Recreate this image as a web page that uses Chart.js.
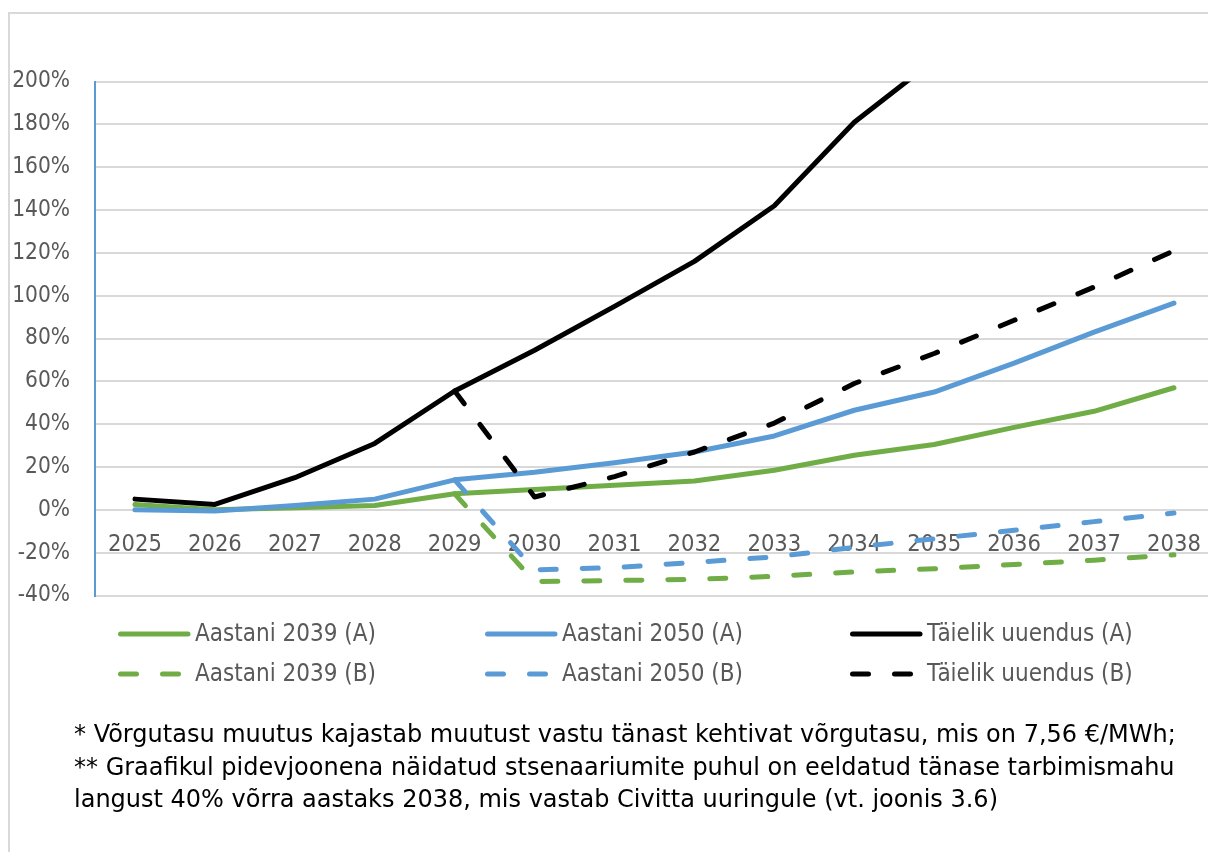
<!DOCTYPE html>
<html lang="et">
<head>
<meta charset="utf-8">
<title>Võrgutasu muutus</title>
<script src="https://cdn.jsdelivr.net/npm/chart.js@4/dist/chart.umd.min.js"></script>
<style>
  html, body { margin: 0; padding: 0; background: #ffffff; overflow: hidden; }
  body { width: 1208px; height: 852px; position: relative; }
  #frame {
    position: absolute; left: 8px; top: 12px; width: 1400px; height: 1000px;
    border-left: 2px solid #d9d9d9; border-top: 2px solid #d9d9d9;
  }
  #wrap { position: absolute; left: 0; top: 0; width: 1222px; height: 852px; }
  #note {
    position: absolute; left: 74px; top: 718px; width: 1130px;
    font-family: "DejaVu Sans", sans-serif;
    font-size: 24px; line-height: 32.5px; color: #000000; white-space: nowrap;
  }
</style>
</head>
<body>
<div id="frame"></div>
<div id="wrap"><canvas id="chart" width="1222" height="852"></canvas></div>
<div id="note">
  * Võrgutasu muutus kajastab muutust vastu tänast kehtivat võrgutasu, mis on 7,56 €/MWh;<br>
  ** Graafikul pidevjoonena näidatud stsenaariumite puhul on eeldatud tänase tarbimismahu<br>
  langust 40% võrra aastaks 2038, mis vastab Civitta uuringule (vt. joonis 3.6)
</div>
<script>
// Aastad
const years = ['2025', '2026', '2027', '2028', '2029', '2030', '2031',
               '2032', '2033', '2034', '2035', '2036', '2037', '2038'];

// Võrgutasu muutus, % (A – pidevjoon)
const aastani2039A = [2.5, 0, 1, 2, 7.5, 9.5, 11.5, 13.5, 18.5, 25.5, 30.5, 38.5, 46, 57];
const aastani2050A = [0, -0.5, 2, 5, 14, 17.5, 22, 27, 34.5, 46.5, 55, 68.5, 83, 96.5];
const taielikA     = [5, 2.5, 15, 31, 55.5, 74.5, 95, 116, 142, 181, 210, null, null, null];

// Võrgutasu muutus, % (B – katkendjoon)
const aastani2039B = [null, null, null, null, 7.5, -33.5, -33, -32.5, -31, -29, -27.5, -25.5, -23.5, -21];
const aastani2050B = [null, null, null, null, 14, -28, -27, -24.5, -22, -17.5, -13.5, -9.5, -5.5, -1.5];
const taielikB     = [null, null, null, null, 55.5, 6, 15.5, 27, 40.5, 59, 73, 88.5, 104, 121];

// Y-telje jaotised
const yTicks = [-40, -20, 0, 20, 40, 60, 80, 100, 120, 140, 160, 180, 200];

const GREEN = '#70ad47', BLUE = '#5b9bd5', BLACK = '#000000';
const DASH = [16, 26];
const FONT = '"DejaVu Sans Condensed", "DejaVu Sans", sans-serif';

function series(label, data, color, dashed, order) {
  return {
    label, data, order,
    borderColor: color, backgroundColor: color,
    borderWidth: 5,
    borderDash: dashed ? DASH : [],
    borderCapStyle: 'round',
    borderJoinStyle: 'round',
    pointRadius: 0, pointHoverRadius: 0,
    tension: 0, fill: false, clip: 0
  };
}

// Legend in three columns, two rows
const gridLegend = {
  id: 'gridLegend',
  afterDraw(chart) {
    const ctx = chart.ctx;
    const cols = [118, 485, 850];
    const rows = [634, 674];
    ctx.save();
    chart.data.datasets.forEach((ds, i) => {
      const x = cols[i % 3], y = rows[Math.floor(i / 3)];
      ctx.beginPath();
      ctx.strokeStyle = ds.borderColor;
      ctx.lineWidth = 5;
      ctx.lineCap = 'round';
      ctx.setLineDash(ds.borderDash.length ? DASH : []);
      ctx.moveTo(x + 2.5, y);
      ctx.lineTo(x + 70, y);
      ctx.stroke();
      ctx.setLineDash([]);
      ctx.fillStyle = '#595959';
      ctx.font = '24px ' + FONT;
      ctx.textBaseline = 'middle';
      ctx.textAlign = 'left';
      ctx.fillText(ds.label, x + 77, y + 1);
    });
    ctx.restore();
  }
};

new Chart(document.getElementById('chart'), {
  type: 'line',
  data: {
    labels: years,
    datasets: [
      series('Aastani 2039 (A)', aastani2039A, GREEN, false, 6),
      series('Aastani 2050 (A)', aastani2050A, BLUE, false, 5),
      series('Täielik uuendus (A)', taielikA, BLACK, false, 4),
      series('Aastani 2039 (B)', aastani2039B, GREEN, true, 3),
      series('Aastani 2050 (B)', aastani2050B, BLUE, true, 2),
      series('Täielik uuendus (B)', taielikB, BLACK, true, 1)
    ]
  },
  options: {
    responsive: false,
    animation: false,
    events: [],
    layout: { padding: { left: 0, top: 81.5, right: 4, bottom: 256.5 } },
    plugins: { legend: { display: false }, tooltip: { enabled: false } },
    scales: {
      x: {
        position: { y: 0 },
        offset: true,
        grid: { display: false, drawTicks: false },
        border: { display: false },
        ticks: {
          color: '#595959', padding: 21, maxRotation: 0, autoSkip: false,
          font: { family: FONT, size: 23.5 }
        }
      },
      y: {
        min: -40, max: 200,
        afterFit(scale) { scale.width = 95; },
        afterBuildTicks(scale) { scale.ticks = yTicks.map(v => ({ value: v })); },
        grid: { color: '#d9d9d9', lineWidth: 2, drawTicks: false },
        border: { display: true, color: BLUE, width: 2 },
        ticks: {
          color: '#595959', padding: 25,
          font: { family: FONT, size: 22.5 },
          callback: v => v + '%'
        }
      }
    }
  },
  plugins: [gridLegend]
});
</script>
</body>
</html>
